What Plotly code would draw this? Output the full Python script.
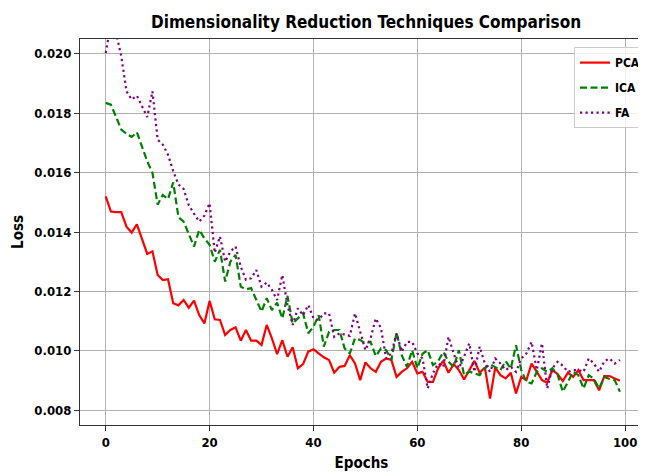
import plotly.graph_objects as go

epochs = list(range(100))

pca_loss = [
    0.01520, 0.01469, 0.01467, 0.01467, 0.01418, 0.01398, 0.01426, 0.01379, 0.01326, 0.01335,
    0.01255, 0.01238, 0.01241, 0.01160, 0.01153, 0.01171, 0.01145, 0.01169, 0.01120, 0.01092,
    0.01168, 0.01106, 0.01104, 0.01053, 0.01070, 0.01079, 0.01034, 0.01070, 0.01034, 0.01034,
    0.01019, 0.01087, 0.01042, 0.00989, 0.01036, 0.00980, 0.01012, 0.00941, 0.00955, 0.00997,
    0.01005, 0.00991, 0.00978, 0.00969, 0.00926, 0.00946, 0.00949, 0.00985, 0.00957, 0.00901,
    0.00961, 0.00941, 0.00929, 0.00963, 0.00974, 0.00969, 0.00912, 0.00929, 0.00941, 0.00963,
    0.00924, 0.00929, 0.00895, 0.00895, 0.00941, 0.00966, 0.00926, 0.00955, 0.00935, 0.00903,
    0.00933, 0.00966, 0.00926, 0.00944, 0.00839, 0.00944, 0.00918, 0.00907, 0.00926, 0.00856,
    0.00912, 0.00901, 0.00957, 0.00929, 0.00901, 0.00893, 0.00935, 0.00922, 0.00898, 0.00926,
    0.00912, 0.00935, 0.00901, 0.00901, 0.00901, 0.00867, 0.00915, 0.00915, 0.00907, 0.00899,
]

ica_loss = [
    0.01835, 0.01829, 0.01787, 0.01745, 0.01731, 0.01720, 0.01736, 0.01688, 0.01638, 0.01599,
    0.01492, 0.01525, 0.01511, 0.01567, 0.01450, 0.01435, 0.01396, 0.01351, 0.01407, 0.01379,
    0.01357, 0.01300, 0.01340, 0.01233, 0.01300, 0.01323, 0.01216, 0.01207, 0.01211, 0.01171,
    0.01132, 0.01177, 0.01137, 0.01162, 0.01109, 0.01185, 0.01092, 0.01109, 0.01126, 0.01059,
    0.01081, 0.01120, 0.01014, 0.01064, 0.01070, 0.01070, 0.01008, 0.00991, 0.01042, 0.01036,
    0.01025, 0.01030, 0.00982, 0.01008, 0.01002, 0.00969, 0.01061, 0.00985, 0.00946, 0.01002,
    0.00941, 0.00990, 0.01002, 0.00952, 0.00965, 0.00996, 0.00963, 0.00946, 0.01002, 0.00918,
    0.00930, 0.00924, 0.00918, 0.00941, 0.00955, 0.00945, 0.00935, 0.00965, 0.00940, 0.01019,
    0.00935, 0.00895, 0.00890, 0.00929, 0.00941, 0.00929, 0.00941, 0.00920, 0.00862, 0.00895,
    0.00929, 0.00918, 0.00873, 0.00918, 0.00905, 0.00873, 0.00912, 0.00905, 0.00901, 0.00862,
]

fa_loss = [
    0.02003, 0.02100, 0.02070, 0.01992, 0.01874, 0.01846, 0.01859, 0.01823, 0.01787, 0.01874,
    0.01711, 0.01694, 0.01660, 0.01605, 0.01560, 0.01545, 0.01490, 0.01462, 0.01435, 0.01455,
    0.01497, 0.01330, 0.01385, 0.01300, 0.01334, 0.01351, 0.01283, 0.01239, 0.01244, 0.01272,
    0.01216, 0.01230, 0.01205, 0.01171, 0.01255, 0.01154, 0.01087, 0.01143, 0.01120, 0.01154,
    0.01110, 0.01104, 0.01126, 0.01126, 0.01047, 0.01059, 0.01055, 0.01050, 0.01126, 0.01064,
    0.01002, 0.01042, 0.01109, 0.01076, 0.00974, 0.00991, 0.01059, 0.00997, 0.01030, 0.01030,
    0.00991, 0.00974, 0.00873, 0.00924, 0.00957, 0.00946, 0.01047, 0.00991, 0.00941, 0.00980,
    0.01025, 0.00929, 0.01014, 0.00957, 0.00929, 0.00974, 0.00957, 0.00935, 0.00946, 0.00929,
    0.00974, 0.00991, 0.01030, 0.00935, 0.01025, 0.00873, 0.00941, 0.00963, 0.00950, 0.00929,
    0.00935, 0.00935, 0.00929, 0.00974, 0.00957, 0.00929, 0.00965, 0.00974, 0.00957, 0.00969,
]

y_ticks = [0.008, 0.010, 0.012, 0.014, 0.016, 0.018, 0.020]
x_ticks = [0, 20, 40, 60, 80, 100]

FONT = "DejaVu Sans Condensed"

fig = go.Figure()
fig.add_trace(go.Scatter(x=epochs, y=pca_loss, mode="lines", name="PCA", legendgroup="pca",
                         line=dict(color="#ff0000", width=2.2)))
fig.add_trace(go.Scatter(x=epochs, y=ica_loss, mode="lines", name="ICA", legendgroup="ica",
                         line=dict(color="#008000", width=2.2, dash="7px,3.5px")))
fig.add_trace(go.Scatter(x=epochs, y=fa_loss, mode="lines", name="FA", legendgroup="fa",
                         line=dict(color="#800080", width=2.2, dash="2.2px,3.3px")))

# page has an 8px body margin, so the figure is sized to fill the rest of the window
W, H = 638, 464
fig.update_layout(
    width=W, height=H,
    margin=dict(l=72, r=0, t=31, b=47),
    paper_bgcolor="white", plot_bgcolor="white",
    font=dict(family=FONT, size=13, color="black"),
    title=dict(text="<b>Dimensionality Reduction Techniques Comparison</b>",
               font=dict(family=FONT, size=17, color="black"),
               x=358 / W, xref="container", xanchor="center",
               y=1 - 14 / H, yref="container", yanchor="middle"),
    showlegend=True,
    legend=dict(x=0.878, y=0.979, xanchor="left", yanchor="top",
                bgcolor="rgba(255,255,255,0.8)", bordercolor="#cccccc", borderwidth=1,
                font=dict(family=FONT, size=12, color="black", weight="bold"),
                tracegroupgap=6),
    xaxis=dict(range=[-4.95, 103.45], tickvals=x_ticks, showgrid=True, automargin=False,
               gridcolor="#b0b0b0", gridwidth=1, zeroline=False,
               showline=True, linecolor="#333333", linewidth=1.2, mirror=True,
               ticks="outside", ticklen=5, tickcolor="#333333",
               tickfont=dict(family=FONT, size=13, weight="bold"),
               title=dict(text="<b>Epochs</b>", font=dict(family=FONT, size=15), standoff=13)),
    yaxis=dict(range=[0.0075, 0.0205], tickvals=y_ticks, tickformat=".3f", showgrid=True,
               automargin=False,
               gridcolor="#b0b0b0", gridwidth=1, zeroline=False,
               showline=True, linecolor="#333333", linewidth=1.2, mirror=False,
               ticks="outside", ticklen=5, tickcolor="#333333",
               tickfont=dict(family=FONT, size=13, weight="bold"),
               title=dict(text="<b>Loss</b>", font=dict(family=FONT, size=15), standoff=7)),
)

fig.write_html("out.html")
